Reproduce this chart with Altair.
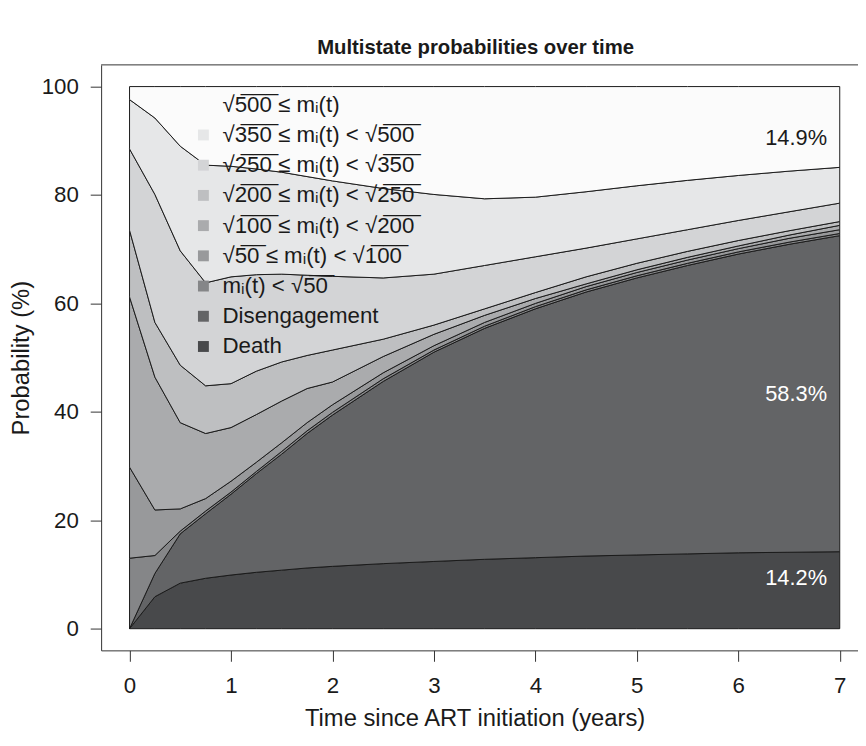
import altair as alt
import pandas as pd

times = [0, 0.25, 0.5, 0.75, 1, 1.25, 1.5, 1.75, 2, 2.5, 3, 3.5, 4, 4.5, 5, 5.5, 6, 6.5, 7]

# Cumulative upper boundaries (%), bottom state first
b_death = [0, 5.9, 8.4, 9.3, 9.9, 10.4, 10.8, 11.2, 11.5, 12.0, 12.4, 12.8, 13.1, 13.4, 13.6, 13.8, 14.0, 14.1, 14.2]
b_diseng = [0, 10.2, 17.5, 21.2, 24.8, 28.6, 32.2, 36.0, 39.4, 45.6, 51.0, 55.4, 59.0, 62.1, 64.7, 67.0, 69.1, 70.9, 72.5]
b_lt50 = [13.0, 13.5, 18.0, 21.7, 25.2, 29.0, 32.7, 36.5, 39.9, 46.1, 51.4, 55.8, 59.4, 62.5, 65.1, 67.4, 69.5, 71.3, 72.9]
b_50_100 = [29.8, 21.9, 22.1, 24.0, 27.2, 30.7, 34.3, 38.0, 41.3, 47.2, 52.2, 56.5, 60.0, 63.1, 65.7, 68.0, 70.1, 72.0, 73.6]
b_100_200 = [61.2, 46.4, 38.0, 36.0, 37.1, 39.5, 42.0, 44.3, 45.5, 50.2, 54.3, 57.8, 60.9, 63.6, 66.2, 68.5, 70.6, 72.6, 74.4]
b_200_250 = [73.5, 56.5, 48.6, 44.8, 45.2, 47.5, 49.2, 50.4, 51.4, 53.4, 56.0, 59.0, 62.0, 64.9, 67.4, 69.6, 71.6, 73.4, 75.1]
b_250_350 = [88.5, 80.1, 69.7, 63.8, 64.9, 65.3, 65.4, 65.2, 65.0, 64.7, 65.4, 67.0, 68.6, 70.2, 71.9, 73.6, 75.3, 76.9, 78.5]
b_350_500 = [97.6, 94.2, 89.0, 85.5, 85.3, 84.8, 84.2, 83.4, 82.6, 81.2, 80.1, 79.3, 79.6, 80.6, 81.7, 82.7, 83.6, 84.4, 85.1]
b_500 = [100] * len(times)

states = [
    "Death",
    "Disengagement",
    "mᵢ(t) < √5̅0̅",
    "√5̅0̅ ≤ mᵢ(t) < √1̅0̅0̅",
    "√1̅0̅0̅ ≤ mᵢ(t) < √2̅0̅0̅",
    "√2̅0̅0̅ ≤ mᵢ(t) < √2̅5̅0̅",
    "√2̅5̅0̅ ≤ mᵢ(t) < √3̅5̅0̅",
    "√3̅5̅0̅ ≤ mᵢ(t) < √5̅0̅0̅",
    "√5̅0̅0̅ ≤ mᵢ(t)",
]
colors = ["#48494B", "#636466", "#858688", "#98999B", "#AAABAD", "#BEBFC1", "#D3D4D6", "#E6E7E8", "#FBFBFB"]

ann_x = [6.57, 6.57, 6.57]
ann_y = [90.5, 43.3, 9.3]
ann_text = ["14.9%", "58.3%", "14.2%"]
ann_color = ["#1a1a1a", "white", "white"]

bounds = [b_death, b_diseng, b_lt50, b_50_100, b_100_200, b_200_250, b_250_350, b_350_500, b_500]
rows = []
for k, st in enumerate(states):
    lower = [0] * len(times) if k == 0 else bounds[k - 1]
    upper = bounds[k]
    for t, lo, hi in zip(times, lower, upper):
        rows.append({"t": t, "lo": lo, "hi": hi, "state": st, "k": k})
df = pd.DataFrame(rows)

legend_order = states[::-1]
legend_colors = colors[::-1]

FONT = "Liberation Sans"
xscale = alt.Scale(domain=[-0.28, 7.18], nice=False, zero=False)
yscale = alt.Scale(domain=[-4, 104], nice=False, zero=False)

areas = alt.Chart(df).mark_area(
    stroke="#1a1a1a", strokeWidth=1, interpolate="linear", opacity=1
).encode(
    x=alt.X("t:Q", scale=xscale,
            axis=alt.Axis(values=list(range(8)), format="d",
                          title="Time since ART initiation (years)",
                          titleY=69, titleX=377, titleBaseline="middle")),
    y=alt.Y("lo:Q", scale=yscale,
            axis=alt.Axis(values=[0, 20, 40, 60, 80, 100], format="d", title="Probability (%)",
                          titleX=-80, titleBaseline="middle")),
    y2="hi:Q",
    color=alt.Color("state:N", scale=alt.Scale(domain=legend_order, range=legend_colors),
                    legend=alt.Legend(title=None, orient="none", legendX=92, legendY=29,
                                      symbolType="square", symbolSize=121,
                                      symbolStrokeWidth=0, symbolOpacity=1,
                                      labelFont=FONT, labelFontSize=22.5, labelColor="#1a1a1a",
                                      labelOffset=8, rowPadding=7.5, padding=0, labelLimit=0)),
    order=alt.Order("k:Q"),
)

ann = alt.Chart(pd.DataFrame({"x": ann_x, "y": ann_y, "text": ann_text, "c": ann_color})).mark_text(
    font=FONT, fontSize=22, align="center", baseline="middle"
).encode(
    x=alt.X("x:Q", scale=xscale),
    y=alt.Y("y:Q", scale=yscale),
    text="text:N",
    color=alt.Color("c:N", scale=None),
)

top = alt.Chart(pd.DataFrame({"v": [104]})).mark_rule(color="#333333", strokeWidth=1).encode(
    y=alt.Y("v:Q", scale=yscale)
)

chart = alt.layer(areas, ann, top).properties(
    width=764, height=591,
    autosize=alt.AutoSizeParams(type="none"),
    padding={"left": 94, "top": 54, "right": 0, "bottom": 82},
    title=alt.TitleParams("Multistate probabilities over time", font=FONT, fontSize=20.5,
                          fontWeight="bold", color="#1a1a1a", offset=6, dx=-4),
).configure_view(stroke=None).configure_axis(
    grid=False, labelFont=FONT, labelFontSize=22.5, labelColor="#1a1a1a",
    titleFont=FONT, titleFontSize=24, titleFontWeight="normal", titleColor="#1a1a1a",
    tickColor="#333333", domainColor="#333333", tickSize=11, labelPadding=14,
).configure_axisY(labelPadding=12)

chart.save("out.html", embed_options={"renderer": "svg", "actions": False})
